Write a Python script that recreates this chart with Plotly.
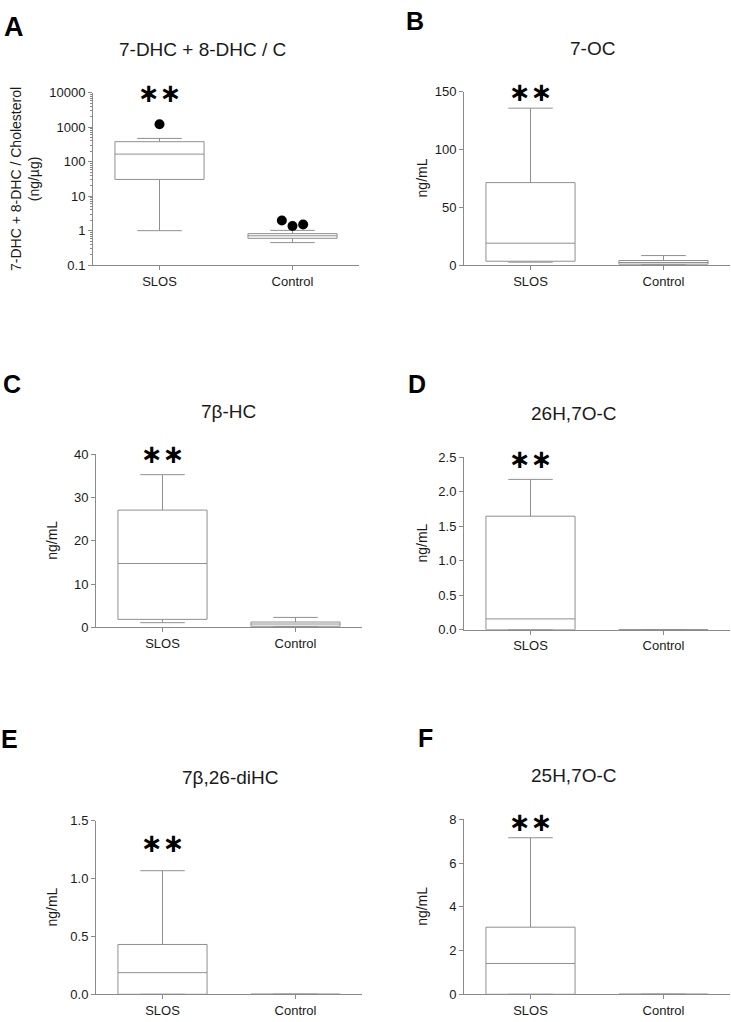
import numpy as np
import plotly.graph_objects as go

# ---------------- data ----------------
groups = ["SLOS", "Control"]

# Panel A: 7-DHC + 8-DHC / C (ng/µg), log scale
a_lower = [1.0, 0.45]
a_q1 = [30.6, 0.60]
a_median = [166, 0.71]
a_q3 = [380, 0.82]
a_upper = [474, 1.02]
a_outliers_slos = [1218]
a_outliers_control = [1.97, 1.36, 1.51]

# Panel B: 7-OC (ng/mL)
b_lower = [2.6, 0.3]
b_q1 = [3.4, 0.85]
b_median = [19.0, 2.3]
b_q3 = [71.4, 4.0]
b_upper = [135.8, 8.3]

# Panel C: 7β-HC (ng/mL)
c_lower = [1.06, 0.1]
c_q1 = [1.83, 0.23]
c_median = [14.75, 0.75]
c_q3 = [27.1, 1.21]
c_upper = [35.3, 2.28]

# Panel D: 26H,7O-C (ng/mL)
d_lower = [0.0, 0.0]
d_q1 = [0.0, 0.0]
d_median = [0.157, 0.0]
d_q3 = [1.646, 0.0]
d_upper = [2.18, 0.0]

# Panel E: 7β,26-diHC (ng/mL)
e_lower = [0.0, 0.0]
e_q1 = [0.0, 0.0]
e_median = [0.187, 0.0]
e_q3 = [0.431, 0.0]
e_upper = [1.069, 0.0]

# Panel F: 25H,7O-C (ng/mL)
f_lower = [0.0, 0.0]
f_q1 = [0.0, 0.0]
f_median = [1.41, 0.0]
f_q3 = [3.07, 0.0]
f_upper = [7.16, 0.0]

titles = ["7-DHC + 8-DHC / C", "7-OC", "7β-HC", "26H,7O-C", "7β,26-diHC", "25H,7O-C"]
letters = ["A", "B", "C", "D", "E", "F"]
y_titles = ["7-DHC + 8-DHC / Cholesterol<br>(ng/µg)", "ng/mL", "ng/mL", "ng/mL", "ng/mL", "ng/mL"]
star_levels = [10000, 150, 40, 2.47, 1.31, 7.9]

# y axis settings per panel
a_ticks = [0.1, 1, 10, 100, 1000, 10000]
a_ticktext = ["0.1", "1", "10", "100", "1000", "10000"]
b_ticks = [0, 50, 100, 150]
c_ticks = [0, 10, 20, 30, 40]
d_ticks = [0.0, 0.5, 1.0, 1.5, 2.0, 2.5]
e_ticks = [0.0, 0.5, 1.0, 1.5]
f_ticks = [0, 2, 4, 6, 8]

# ---------------- layout helpers ----------------
W, H = 731, 1022
FONT = "Arial, Liberation Sans, Helvetica, sans-serif"
AXC = "#8a8a8a"
BOXC = "#8f8f8f"
TXT = "#1a1a1a"

def px_x(p):
    return p / W

def px_y(p):
    return 1 - p / H

# panel pixel geometry: (left, right, top, bottom)
geo = [
    (93, 359, 87, 262),
    (464, 730, 86, 262),
    (96, 362, 454, 629.5),
    (464, 730, 457, 632),
    (96, 362, 826, 1002),
    (464, 730, 824.5, 1002),
]
title_pos = [(202, 43), (592, 42), (228, 411), (574, 413), (230, 782), (574, 780)]
letter_pos = [(14, 20), (415, 14), (12, 383), (417, 383), (9, 743), (425, 742)]
ytitle_x = [25, 422, 52, 422, 52, 422]

fig = go.Figure()

box_data = [
    (a_lower, a_q1, a_median, a_q3, a_upper),
    (b_lower, b_q1, b_median, b_q3, b_upper),
    (c_lower, c_q1, c_median, c_q3, c_upper),
    (d_lower, d_q1, d_median, d_q3, d_upper),
    (e_lower, e_q1, e_median, e_q3, e_upper),
    (f_lower, f_q1, f_median, f_q3, f_upper),
]

xpos = list(range(len(groups)))
annotations = []

for i, (lo, q1, med, q3, up) in enumerate(box_data):
    n = i + 1
    xa = "x" if n == 1 else f"x{n}"
    ya = "y" if n == 1 else f"y{n}"
    fig.add_trace(go.Box(
        x=xpos, q1=q1, median=med, q3=q3, lowerfence=lo, upperfence=up,
        xaxis=xa, yaxis=ya, width=0.67, whiskerwidth=0.5,
        fillcolor="white", line=dict(color=BOXC, width=1),
        boxpoints=False, showlegend=False, hoverinfo="skip",
    ))
    l, r, t, b = geo[i]
    xkey = "xaxis" if n == 1 else f"xaxis{n}"
    ykey = "yaxis" if n == 1 else f"yaxis{n}"
    fig.layout[xkey] = dict(
        domain=[px_x(l), px_x(r)], anchor=ya, range=[-0.5, 1.5],
        tickvals=xpos, ticktext=groups, showline=True, linecolor=AXC, linewidth=1,
        ticks="outside", ticklen=4, tickcolor=AXC, showgrid=False, zeroline=False,
        tickfont=dict(family=FONT, size=13, color=TXT), fixedrange=True,
    )
    ycommon = dict(
        domain=[px_y(b), px_y(t)], anchor=xa, showline=True, linecolor=AXC, linewidth=1,
        ticks="outside", ticklen=4, tickcolor=AXC, showgrid=False, zeroline=False,
        tickfont=dict(family=FONT, size=13, color=TXT), fixedrange=True,
    )
    if i == 0:
        minor_vals = [k * 10.0 ** e for e in range(-1, 4) for k in range(2, 10)]
        ycommon.update(type="log", range=[-1, 4], tickvals=a_ticks, ticktext=a_ticktext,
                       minor=dict(tickvals=minor_vals, ticks="outside", ticklen=2, tickcolor=AXC))
    else:
        tv = [b_ticks, c_ticks, d_ticks, e_ticks, f_ticks][i - 1]
        ycommon.update(range=[tv[0], tv[-1]], tickvals=tv,
                       tickformat=".1f" if i in (3, 4) else "d")
    fig.layout[ykey] = ycommon

    # panel title
    tx, ty = title_pos[i]
    annotations.append(dict(x=px_x(tx), y=px_y(ty), xref="paper", yref="paper",
                            text=titles[i], showarrow=False, xanchor="center", yanchor="middle",
                            font=dict(family=FONT, size=19, color=TXT)))
    # panel letter
    lx, ly = letter_pos[i]
    annotations.append(dict(x=px_x(lx), y=px_y(ly), xref="paper", yref="paper",
                            text=f"<b>{letters[i]}</b>", showarrow=False, xanchor="center", yanchor="middle",
                            font=dict(family=FONT, size=27 if i == 0 else 25, color="black")))
    # y title
    annotations.append(dict(x=px_x(ytitle_x[i]), y=px_y((t + b) / 2), xref="paper", yref="paper",
                            text=y_titles[i], showarrow=False, textangle=-90,
                            xanchor="center", yanchor="middle",
                            font=dict(family=FONT, size=14, color=TXT)))
    # significance stars
    sy = np.log10(star_levels[i]) if i == 0 else star_levels[i]
    annotations.append(dict(x=0, y=sy, xref=xa, yref=ya, text="<b>∗∗</b>", showarrow=False,
                            xanchor="center", yanchor="middle", yshift=0,
                            font=dict(family="DejaVu Sans", size=26, color="black")))

# outliers (panel A)
def spread(n):
    return np.linspace(-0.08, 0.08, n) if n > 1 else np.zeros(1)

out_x = list(0 + spread(len(a_outliers_slos))) + list(1 + spread(len(a_outliers_control)))
out_y = a_outliers_slos + a_outliers_control
fig.add_trace(go.Scatter(x=out_x, y=out_y, mode="markers", xaxis="x", yaxis="y",
                         marker=dict(color="black", size=10), showlegend=False, hoverinfo="skip"))

fig.update_layout(
    width=W, height=H, margin=dict(l=0, r=0, t=0, b=0),
    paper_bgcolor="white", plot_bgcolor="white",
    annotations=annotations, showlegend=False,
)

fig.write_html("out.html", config={"displayModeBar": False},
               post_script="document.body.style.margin='0';")
